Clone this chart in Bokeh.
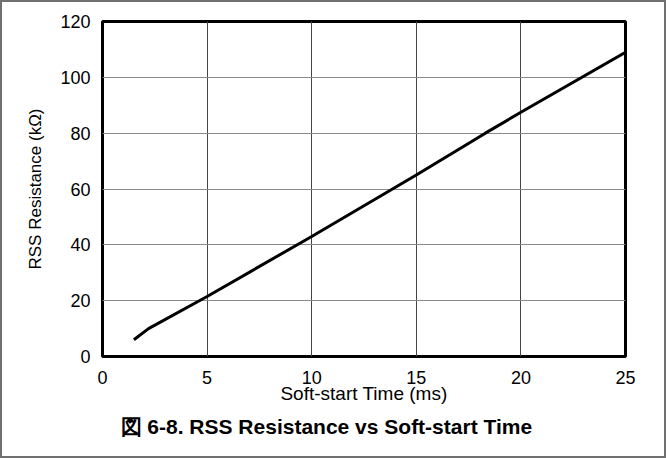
from bokeh.plotting import figure
from bokeh.models import Range1d, FixedTicker, Title
from bokeh.embed import file_html
from bokeh.resources import INLINE

soft_start_ms = [1.5, 2.2, 5.0, 10.0, 15.0, 18.3, 20.0, 25.0]
rss_kohm = [6.0, 10.0, 21.5, 43.0, 65.0, 80.0, 87.5, 109.0]
x_ticks = [0, 5, 10, 15, 20, 25]
y_ticks = [0, 20, 40, 60, 80, 100, 120]
caption = "図 6-8. RSS Resistance vs Soft-start Time"

FONT = "Liberation Sans"

p = figure(width=666, height=458, output_backend="svg", toolbar_location=None,
           x_range=Range1d(0, 25), y_range=Range1d(0, 120),
           min_border_left=102, min_border_right=41, min_border_top=21, min_border_bottom=102,
           styles={"background-color": "white",
                   "box-shadow": "inset 0 0 0 2px #707070"})

p.line(soft_start_ms, rss_kohm, line_color="black", line_width=3)

p.outline_line_color = "black"
p.outline_line_width = 3
p.background_fill_color = "white"
p.border_fill_color = None

p.xaxis.ticker = FixedTicker(ticks=x_ticks)
p.yaxis.ticker = FixedTicker(ticks=y_ticks)
for ax in (p.xaxis, p.yaxis):
    ax.axis_line_color = None
    ax.major_tick_line_color = None
    ax.minor_tick_line_color = None
    ax.major_label_text_font = FONT
    ax.major_label_text_font_size = "18px"
    ax.major_label_text_color = "black"
    ax.axis_label_text_font = FONT
    ax.axis_label_text_font_style = "normal"
    ax.axis_label_text_color = "black"

p.xaxis.axis_label = "Soft-start Time (ms)"
p.yaxis.axis_label = "RSS Resistance (kΩ)"
p.xaxis.axis_label_text_font_size = "19px"
p.yaxis.axis_label_text_font_size = "17px"
p.xaxis.major_label_standoff = 8
p.yaxis.major_label_standoff = 6
p.xaxis.axis_label_standoff = -4
p.yaxis.axis_label_standoff = 12

p.xgrid.grid_line_color = "#444444"
p.xgrid.grid_line_width = 1
p.ygrid.grid_line_color = "#8a8a8a"
p.ygrid.grid_line_width = 1

t = Title(text=caption, align="left", offset=18, standoff=13,
          text_font=FONT, text_font_size="21px", text_font_style="bold",
          text_color="black")
p.add_layout(t, "below")

open("out.html", "w").write(file_html(p, INLINE))
